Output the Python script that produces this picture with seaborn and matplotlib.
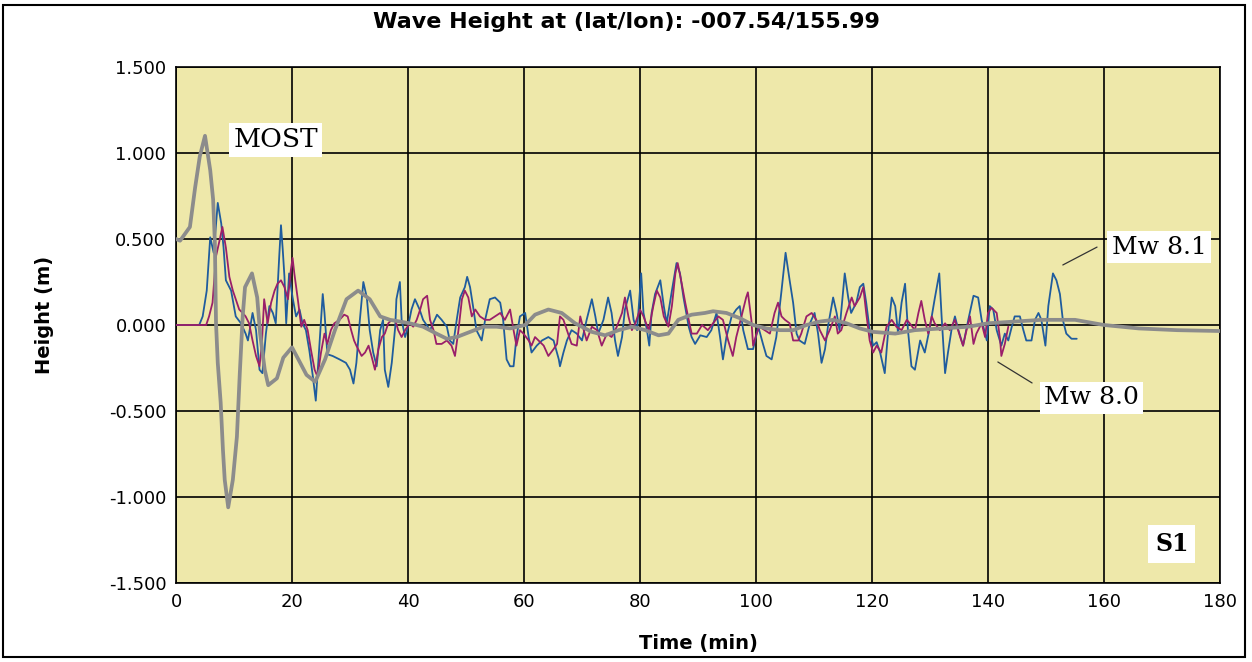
import matplotlib
matplotlib.use("Agg")
import matplotlib.pyplot as plt
import seaborn as sns
import pandas as pd
from matplotlib.patches import Rectangle

# ---------------- data ----------------
blue_t = [0, 4.0, 4.6, 5.3, 5.9, 6.5, 7.2, 7.8, 8.2, 8.6, 9.5, 10.3, 11.2, 12.0, 12.4, 13.2, 13.8, 14.4, 14.9, 15.5,
          16.1, 16.7, 17.2, 17.8, 18.1, 18.4, 18.7, 19.0, 19.5, 20.1, 20.7, 21.3, 21.8, 22.4, 23.0, 23.6, 24.1, 24.7,
          25.3, 25.6, 26.1, 27.0, 28.2, 29.3, 30.0, 30.6, 31.1, 31.7, 32.3, 32.9, 33.4, 34.0, 34.6, 35.2, 35.7, 36.0,
          36.6, 37.2, 37.8, 38.0, 38.6, 38.9, 39.5, 40.0, 40.6, 41.2, 42.0, 42.6, 43.8, 45.0, 45.8, 46.7, 47.2, 47.8,
          48.4, 49.0, 49.8, 50.2, 50.7, 51.3, 51.8, 52.7, 53.3, 54.1, 55.0, 55.9, 56.4, 57.0, 57.6, 58.2, 58.7, 59.3,
          60.2, 60.8, 61.3, 62.2, 63.1, 64.2, 65.1, 66.0, 66.2, 66.8, 67.4, 68.2, 69.1, 70.0, 70.8, 71.7, 72.3, 72.8,
          73.7, 74.5, 75.1, 75.7, 76.2, 76.9, 77.4, 78.3, 78.9, 79.5, 80.2, 80.6, 81.2, 81.6, 82.0, 82.6, 83.5, 84.1,
          84.6, 85.5, 86.3, 86.9, 87.5, 88.4, 88.9, 89.5, 90.4, 91.5, 92.3, 93.2, 93.8, 94.3, 94.9, 95.8, 96.6, 97.2,
          97.8, 98.6, 99.5, 100.4, 101.2, 101.8, 102.7, 103.5, 104.4, 105.1, 105.8, 106.4, 107.0, 107.5, 108.4, 109.3,
          110.1, 110.7, 111.3, 111.9, 112.4, 113.3, 113.9, 114.4, 115.3, 115.9, 116.4, 117.3, 117.9, 118.5, 119.0,
          119.6, 120.2, 120.8, 121.4, 122.2, 122.8, 123.4, 124.0, 124.5, 125.1, 125.7, 126.2, 126.8, 127.4, 128.3,
          129.1, 130.0, 130.8, 131.6, 132.0, 132.6, 133.1, 133.7, 134.3, 134.9, 135.7, 136.6, 137.5, 138.3, 138.9,
          139.8, 140.3, 140.9, 141.5, 142.3, 142.9, 143.5, 144.1, 144.6, 145.5, 146.1, 146.6, 147.5, 148.1, 148.7,
          149.2, 149.9, 150.4, 151.2, 151.8, 152.4, 152.9, 153.5, 154.4, 155.3]
blue_h = [0, 0, 0.05, 0.20, 0.51, 0.42, 0.71, 0.59, 0.45, 0.26, 0.20, 0.05, 0.01, -0.05, -0.09, 0.07, -0.03, -0.26,
          -0.28, -0.05, 0.11, 0.07, 0.01, 0.40, 0.58, 0.44, 0.28, 0.01, 0.30, 0.16, 0.05, 0.09, 0.01, -0.03, -0.15,
          -0.30, -0.44, -0.13, 0.18, 0.07, -0.17, -0.18, -0.20, -0.22, -0.26, -0.34, -0.22, 0.03, 0.25, 0.16, -0.03,
          -0.16, -0.24, -0.03, 0.03, -0.26, -0.36, -0.22, -0.01, 0.15, 0.25, 0.03, -0.07, -0.01, 0.09, 0.15, 0.09,
          0.03, -0.03, 0.06, 0.03, -0.01, -0.09, -0.11, 0.03, 0.16, 0.22, 0.28, 0.22, 0.09, -0.03, -0.09, 0.03, 0.15,
          0.16, 0.13, 0.03, -0.20, -0.24, -0.24, -0.07, 0.05, 0.07, -0.07, -0.16, -0.12, -0.09, -0.07, -0.09, -0.20,
          -0.24, -0.16, -0.09, -0.03, -0.05, -0.09, 0.03, 0.15, 0.05, -0.05, 0.03, 0.16, 0.07, -0.09, -0.18, -0.07,
          0.09, 0.20, 0.03, -0.03, 0.30, 0.07, -0.03, -0.12, 0.07, 0.18, 0.26, 0.11, 0.01, 0.20, 0.36, 0.30, 0.16,
          -0.01, -0.07, -0.11, -0.06, -0.07, -0.03, 0.07, -0.07, -0.20, -0.07, 0.05, 0.09, 0.11, -0.03, -0.14, -0.14,
          -0.01, -0.11, -0.18, -0.20, -0.07, 0.20, 0.42, 0.26, 0.13, -0.05, -0.09, -0.11, 0.01, 0.07, -0.05, -0.22,
          -0.14, -0.01, 0.16, 0.07, -0.03, 0.30, 0.16, 0.07, 0.13, 0.22, 0.24, 0.13, -0.03, -0.12, -0.10, -0.16,
          -0.28, -0.03, 0.16, 0.11, -0.05, 0.13, 0.24, -0.03, -0.24, -0.26, -0.09, -0.16, -0.01, 0.15, 0.30, 0.05,
          -0.28, -0.16, -0.03, 0.05, -0.03, -0.12, 0.03, 0.17, 0.16, 0.03, -0.09, 0.11, 0.09, -0.03, -0.12, -0.05,
          -0.09, -0.01, 0.05, 0.05, -0.03, -0.09, -0.09, 0.03, 0.07, 0.03, -0.12, 0.11, 0.30, 0.26, 0.18, 0.03,
          -0.05, -0.08, -0.08]

red_t = [0, 5.2, 5.7, 6.3, 6.9, 7.5, 8.0, 8.6, 9.2, 9.8, 10.3, 10.9, 11.5, 12.0, 12.6, 13.2, 13.8, 14.4, 14.8, 15.2,
         15.8, 16.4, 17.0, 17.5, 18.1, 18.7, 19.3, 19.8, 20.1, 20.4, 21.0, 21.6, 22.1, 22.7, 23.3, 23.9, 24.4, 25.0,
         25.6, 26.1, 26.7, 27.3, 28.2, 29.0, 29.6, 30.2, 30.7, 31.1, 32.0, 32.6, 33.2, 33.7, 34.3, 34.9, 35.5, 36.0,
         36.6, 37.2, 37.8, 38.3, 38.9, 39.5, 40.3, 40.9, 41.5, 42.1, 42.6, 43.3, 43.8, 44.4, 44.9, 45.8, 46.7, 47.5,
         48.1, 48.7, 49.3, 49.8, 50.4, 51.0, 51.6, 52.4, 53.3, 54.1, 55.0, 55.9, 56.7, 57.6, 58.2, 58.7, 59.3, 59.9,
         60.8, 61.3, 61.9, 62.5, 63.4, 64.2, 65.1, 65.7, 66.2, 66.8, 67.4, 68.2, 69.1, 69.7, 70.3, 70.8, 71.7, 72.6,
         73.4, 74.3, 75.1, 76.0, 76.9, 77.4, 78.0, 78.6, 79.2, 80.0, 80.6, 81.5, 82.3, 82.9, 83.5, 84.1, 84.9, 85.5,
         86.1, 86.5, 87.2, 87.8, 88.4, 88.9, 89.8, 90.7, 91.7, 92.6, 93.5, 94.3, 95.2, 96.0, 96.6, 97.5, 98.3, 98.6,
         99.2, 99.5, 100.1, 100.6, 101.5, 102.4, 103.2, 103.8, 104.4, 105.0, 105.8, 106.4, 107.3, 107.8, 108.7,
         109.6, 110.4, 111.0, 111.9, 112.7, 113.6, 114.1, 114.7, 115.6, 116.5, 117.0, 117.9, 118.5, 119.0, 119.6,
         120.2, 120.8, 121.6, 122.5, 123.4, 124.2, 125.1, 126.0, 126.5, 127.4, 128.0, 128.5, 129.1, 129.7, 130.3,
         130.8, 131.7, 132.6, 133.4, 134.3, 135.2, 135.7, 136.3, 136.9, 137.5, 138.0, 138.9, 139.5, 140.0, 140.6,
         141.5, 142.1, 142.3, 142.9, 143.5]
red_h = [0, 0, 0.05, 0.13, 0.40, 0.49, 0.57, 0.45, 0.28, 0.20, 0.15, 0.09, 0.07, 0.05, 0.01, -0.09, -0.18, -0.24,
         -0.11, 0.15, 0.01, 0.13, 0.20, 0.24, 0.26, 0.22, 0.15, 0.32, 0.39, 0.30, 0.15, -0.01, 0.03, -0.03, -0.15,
         -0.26, -0.30, -0.16, -0.05, -0.11, -0.03, 0.01, 0.03, 0.06, 0.05, -0.03, -0.09, -0.12, -0.18, -0.16, -0.12,
         -0.18, -0.26, -0.14, -0.07, -0.05, 0.01, 0.03, 0.03, -0.03, -0.07, -0.03, 0.01, -0.01, 0.03, 0.09, 0.15,
         0.17, 0.03, -0.03, -0.11, -0.11, -0.09, -0.12, -0.18, -0.03, 0.15, 0.20, 0.16, 0.05, 0.09, 0.05, 0.03, 0.03,
         0.05, 0.07, 0.03, 0.09, -0.03, -0.12, -0.03, -0.05, -0.09, -0.12, -0.07, -0.09, -0.12, -0.18, -0.14, -0.11,
         0.05, 0.03, -0.03, -0.11, -0.12, 0.05, -0.03, -0.09, -0.01, -0.03, -0.12, -0.05, -0.07, -0.01, 0.07, 0.16,
         0.05, -0.03, 0.01, 0.09, 0.05, -0.03, 0.11, 0.20, 0.16, 0.05, -0.01, 0.11, 0.30, 0.36, 0.24, 0.13, 0.03,
         -0.05, -0.05, 0.00, -0.03, 0.01, 0.05, 0.03, -0.09, -0.18, -0.07, 0.05, 0.16, 0.19, 0.03, -0.12, -0.05,
         -0.01, -0.03, -0.05, 0.07, 0.13, 0.05, 0.03, 0.01, -0.09, -0.09, -0.05, 0.05, 0.07, 0.03, -0.03, -0.09,
         -0.03, 0.05, -0.05, -0.03, 0.07, 0.16, 0.11, 0.16, 0.22, 0.07, -0.09, -0.16, -0.12, -0.16, -0.01, 0.03,
         -0.01, -0.03, 0.03, 0.01, -0.03, 0.07, 0.14, 0.03, -0.05, 0.05, 0.01, -0.03, 0.01, -0.03, 0.03, -0.07,
         -0.12, -0.03, 0.05, -0.11, -0.05, 0.01, -0.07, 0.07, 0.10, 0.07, -0.09, -0.18, -0.11, -0.01]

most_t = [0, 0.7, 2.4, 3.3, 4.1, 5.0, 5.9, 6.4, 6.7, 6.9, 7.2, 7.7, 8.1, 8.4, 9.0, 9.8, 10.5, 11.0, 11.5, 11.9,
          13.1, 14.0, 14.5, 15.3, 15.9, 17.4, 18.5, 20.0, 21.1, 22.5, 24.0, 25.7, 27.4, 29.4, 31.4, 33.4, 35.2, 36.9,
          40.3, 42.6, 44.9, 46.7, 48.4, 50.7, 53.0, 55.3, 57.6, 60.2, 61.9, 64.2, 66.5, 68.8, 71.7, 74.0, 76.3, 78.6,
          80.9, 83.2, 84.9, 86.6, 88.9, 91.2, 92.6, 94.9, 97.2, 99.5, 101.8, 104.1, 106.4, 108.7, 111.0, 113.3, 115.6,
          117.9, 120.2, 124.0, 127.4, 132.0, 136.6, 140.0, 144.6, 149.2, 155.0, 160.0, 166.0, 172.6, 180.0]
most_h = [0.50, 0.49, 0.57, 0.80, 0.98, 1.10, 0.90, 0.73, 0.48, 0.01, -0.22, -0.45, -0.73, -0.90, -1.06, -0.90,
          -0.65, -0.28, 0.05, 0.22, 0.30, 0.16, -0.05, -0.26, -0.35, -0.31, -0.19, -0.13, -0.20, -0.29, -0.33, -0.20,
          -0.03, 0.15, 0.20, 0.15, 0.05, 0.03, 0.01, -0.01, -0.05, -0.08, -0.07, -0.04, -0.01, -0.01, -0.02, 0.00,
          0.06, 0.09, 0.07, 0.01, -0.04, -0.06, -0.03, -0.01, -0.03, -0.06, -0.05, 0.03, 0.06, 0.07, 0.08, 0.07,
          0.04, 0.00, -0.02, -0.03, -0.03, 0.00, 0.02, 0.03, 0.01, -0.02, -0.04, -0.05, -0.03, -0.02, -0.01, 0.01,
          0.02, 0.03, 0.03, 0.00, -0.02, -0.03, -0.035]

x_ticks = [0, 20, 40, 60, 80, 100, 120, 140, 160, 180]
y_ticks = [-1.5, -1.0, -0.5, 0.0, 0.5, 1.0, 1.5]

# ---------------- styling ----------------
sns.set_style("white")
plt.rcParams['font.family'] = ['DejaVu Sans']
plt.rcParams['text.color'] = 'black'
plt.rcParams['axes.labelcolor'] = 'black'
plt.rcParams['xtick.color'] = 'black'
plt.rcParams['ytick.color'] = 'black'

fig = plt.figure(figsize=(12.52, 6.62), dpi=100)
ax = fig.add_axes([176 / 1252, 1 - 583 / 662, (1220 - 176) / 1252, (583 - 67) / 662])
ax.set_facecolor('#EEE8AA')

df_b = pd.DataFrame({'t': blue_t, 'h': blue_h})
df_r = pd.DataFrame({'t': red_t, 'h': red_h})
df_m = pd.DataFrame({'t': most_t, 'h': most_h})

sns.lineplot(data=df_b, x='t', y='h', ax=ax, color='#1F5C9E', lw=1.3, estimator=None, sort=False, zorder=3)
sns.lineplot(data=df_r, x='t', y='h', ax=ax, color='#9A1F6A', lw=1.3, estimator=None, sort=False, zorder=3)
sns.lineplot(data=df_m, x='t', y='h', ax=ax, color='#8C8C8C', lw=2.7, estimator=None, sort=False, zorder=4)

ax.set_xlim(0, 180)
ax.set_ylim(-1.5, 1.5)
ax.set_xticks(x_ticks)
ax.set_yticks(y_ticks)
ax.set_xticklabels([str(v) for v in x_ticks], fontsize=13, color='black')
ax.set_yticklabels([f"{v:.3f}" for v in y_ticks], fontsize=13, color='black')
ax.grid(True, color='black', lw=1.2, zorder=1)
ax.set_axisbelow(True)
for s in ax.spines.values():
    s.set_color('black')
    s.set_linewidth(1.2)
ax.tick_params(axis='both', direction='out', length=4, width=1, color='black', pad=3)
ax.set_xlabel('')
ax.set_ylabel('')

fig.text(0.5, 1 - 22 / 662, 'Wave Height at (lat/lon): -007.54/155.99', ha='center', va='center',
         fontsize=16, fontweight='bold', color='black')
fig.text(45 / 1252, 1 - 315 / 662, 'Height (m)', rotation=90, ha='center', va='center',
         fontsize=14, fontweight='bold', color='black')
fig.text(698 / 1252, 1 - 643 / 662, 'Time (min)', ha='center', va='center',
         fontsize=14, fontweight='bold', color='black')

box = dict(facecolor='white', edgecolor='none', pad=3)
ax.text(17.2, 1.076, 'MOST', ha='center', va='center', fontsize=19, family='DejaVu Serif',
        color='black', bbox=box, zorder=6)
ax.text(169.5, 0.453, 'Mw 8.1', ha='center', va='center', fontsize=18, family='DejaVu Serif',
        color='black', bbox=box, zorder=6)
ax.text(157.8, -0.424, 'Mw 8.0', ha='center', va='center', fontsize=18, family='DejaVu Serif',
        color='black', bbox=box, zorder=6)
ax.text(171.7, -1.273, 'S1', ha='center', va='center', fontsize=17, family='DejaVu Serif',
        fontweight='bold', color='black', bbox=dict(facecolor='white', edgecolor='none', pad=5), zorder=6)
ax.plot([152.9, 158.8], [0.349, 0.453], color='#333333', lw=0.9, zorder=5)
ax.plot([141.7, 147.6], [-0.215, -0.337], color='#333333', lw=0.9, zorder=5)

fig.patches.append(Rectangle((3 / 1252, 5 / 662), (1245 - 3) / 1252, (657 - 5) / 662,
                             transform=fig.transFigure, fill=False, edgecolor='black', lw=1.5))

fig.savefig('out.png', dpi=100, facecolor='white')
